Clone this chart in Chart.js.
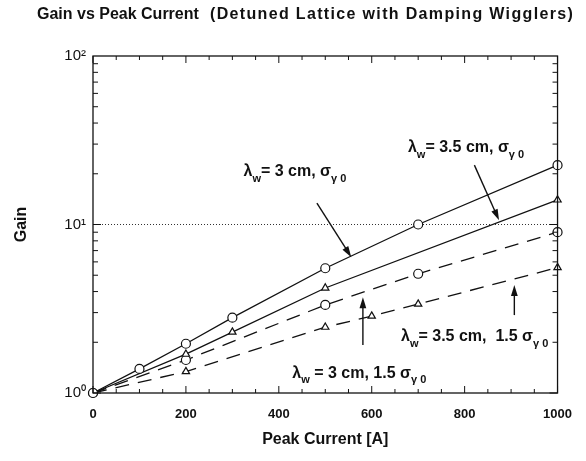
<!DOCTYPE html>
<html><head><meta charset="utf-8">
<script src="https://cdn.jsdelivr.net/npm/chart.js@4/dist/chart.umd.min.js"></script>
<style>html,body{margin:0;padding:0;background:#fff;}#wrap{width:586px;height:461px;position:relative;}</style>
</head><body><div id="wrap"><canvas id="c" width="586" height="461"></canvas></div>
<script>
// ---- data ----
const currentA = [0, 100, 200, 300, 500, 700, 1000];      // λw = 3 cm, σγ0 (solid, circles)
const gainA    = [1, 1.39, 1.96, 2.8, 5.5, 10, 22.5];
const currentB = [0, 200, 300, 500, 1000];                 // λw = 3.5 cm, σγ0 (solid, triangles)
const gainB    = [1, 1.70, 2.30, 4.2, 14];
const currentC = [0, 200, 500, 700, 1000];                 // λw = 3 cm, 1.5 σγ0 (dashed, circles)
const gainC    = [1, 1.57, 3.33, 5.1, 9.0];
const currentD = [0, 200, 500, 600, 700, 1000];            // λw = 3.5 cm, 1.5 σγ0 (dashed, triangles)
const gainD    = [1, 1.34, 2.46, 2.86, 3.37, 5.55];
const refGain  = [10, 10];
const refCurrent = [0, 1000];
const xTickValues = [0, 200, 400, 600, 800, 1000];
const xTickLabels = ['0', '200', '400', '600', '800', '1000'];
const yTickValues = [1, 10, 100];
const yTickLabels = ['10⁰', '10¹', '10²'];
const titleLeft  = 'Gain vs Peak Current';
const titleRight = '(Detuned Lattice with Damping Wigglers)';

// annotation anchors in data coordinates (current, gain)
const labels = [
  {parts: [['λ'], ['w', 1], ['= 3 cm, σ'], ['γ 0', 1]], at: [324, 20.5]},
  {parts: [['λ'], ['w', 1], ['= 3.5 cm, σ'], ['γ 0', 1]], at: [678, 28.5]},
  {parts: [['λ'], ['w', 1], [' = 3 cm, 1.5 σ'], ['γ 0', 1]], at: [429, 1.31]},
  {parts: [['λ'], ['w', 1], ['= 3.5 cm,  1.5 σ'], ['γ 0', 1]], at: [663, 2.15]}
];
const arrows = [
  {from: [482, 13.4], to: [556, 6.4]},
  {from: [821, 22.5], to: [874, 10.6]},
  {from: [581, 1.93], to: [581, 3.7]},
  {from: [907, 2.9], to: [907, 4.37]}
];

const INK = '#111';
const FONT = "'Liberation Sans', Arial, Helvetica, sans-serif";

function pts(xs, ys) { return xs.map((x, i) => ({x: x, y: ys[i]})); }
function series(label, xs, ys, shape, dashed, hideFirst) {
  return {
    label: label, data: pts(xs, ys),
    borderColor: INK, borderWidth: 1.3, borderDash: dashed ? [14, 9] : [],
    pointStyle: shape,
    pointRadius: (c) => (hideFirst && c.dataIndex === 0) ? 0 : (shape === 'circle' ? 4.5 : 4.2),
    pointBackgroundColor: '#fff', pointBorderColor: INK, pointBorderWidth: 1.2,
    tension: 0, clip: false, fill: false
  };
}

function fitText(ctx, text, x, y, target) {
  ctx.letterSpacing = '0px';
  const w = ctx.measureText(text).width;
  const sp = Math.max(0, (target - w) / text.length);
  ctx.letterSpacing = sp.toFixed(2) + 'px';
  ctx.fillText(text, x, y);
  ctx.letterSpacing = '0px';
}

const framePlugin = {
  id: 'frame',
  afterDraw(chart) {
    const ctx = chart.ctx, a = chart.chartArea, xs = chart.scales.x, ys = chart.scales.y;
    ctx.save();
    ctx.strokeStyle = INK; ctx.lineWidth = 1.3;
    ctx.strokeRect(a.left, a.top, a.right - a.left, a.bottom - a.top);
    ctx.lineWidth = 1;
    ctx.beginPath();
    for (let v = 0; v <= 1000; v += 50) {
      const px = xs.getPixelForValue(v);
      const len = (v % 200 === 0) ? 7 : 4;
      ctx.moveTo(px, a.bottom); ctx.lineTo(px, a.bottom - len);
      ctx.moveTo(px, a.top); ctx.lineTo(px, a.top + len);
    }
    for (let d = 1; d <= 10; d *= 10) {
      for (let m = 1; m <= 9; m++) {
        const py = ys.getPixelForValue(m * d);
        const len = m === 1 ? 8 : 5;
        ctx.moveTo(a.left, py); ctx.lineTo(a.left + len, py);
        ctx.moveTo(a.right, py); ctx.lineTo(a.right - len, py);
      }
    }
    ctx.stroke();
    // arrows
    arrows.forEach(ar => {
      const x1 = xs.getPixelForValue(ar.from[0]), y1 = ys.getPixelForValue(ar.from[1]);
      const x2 = xs.getPixelForValue(ar.to[0]), y2 = ys.getPixelForValue(ar.to[1]);
      const ang = Math.atan2(y2 - y1, x2 - x1), L = 11, W = 3.4;
      ctx.beginPath(); ctx.lineWidth = 1.4;
      ctx.moveTo(x1, y1); ctx.lineTo(x2 - Math.cos(ang) * L * 0.8, y2 - Math.sin(ang) * L * 0.8); ctx.stroke();
      ctx.beginPath();
      ctx.moveTo(x2, y2);
      ctx.lineTo(x2 - Math.cos(ang) * L - Math.sin(ang) * W, y2 - Math.sin(ang) * L + Math.cos(ang) * W);
      ctx.lineTo(x2 - Math.cos(ang) * L + Math.sin(ang) * W, y2 - Math.sin(ang) * L - Math.cos(ang) * W);
      ctx.closePath(); ctx.fillStyle = INK; ctx.fill();
    });
    // labels
    ctx.fillStyle = INK; ctx.textBaseline = 'middle'; ctx.textAlign = 'left';
    labels.forEach(lb => {
      let x = xs.getPixelForValue(lb.at[0]);
      const y = ys.getPixelForValue(lb.at[1]);
      lb.parts.forEach(p => {
        ctx.font = p[1] ? 'bold 11px ' + FONT : 'bold 16px ' + FONT;
        ctx.fillText(p[0], x, p[1] ? y + 7 : y);
        x += ctx.measureText(p[0]).width;
      });
    });
    // main title
    ctx.font = 'bold 16px ' + FONT;
    ctx.textBaseline = 'middle';
    fitText(ctx, titleLeft, 37, 15, 158);
    fitText(ctx, titleRight, 210, 15, 364);
    ctx.restore();
  }
};

new Chart(document.getElementById('c'), {
  type: 'line',
  data: {
    datasets: [
      series('λw = 3 cm, σγ0', currentA, gainA, 'circle', false, false),
      series('λw = 3.5 cm, σγ0', currentB, gainB, 'triangle', false, true),
      series('λw = 3 cm, 1.5 σγ0', currentC, gainC, 'circle', true, false),
      series('λw = 3.5 cm, 1.5 σγ0', currentD, gainD, 'triangle', true, true),
      {label: 'Gain = 10', data: pts(refCurrent, refGain), borderColor: '#333', borderWidth: 1,
       borderDash: [1, 2], pointRadius: 0, tension: 0, fill: false}
    ]
  },
  options: {
    responsive: false, animation: false, devicePixelRatio: 1,
    layout: {padding: {top: 56, right: 18, left: 0, bottom: 0}},
    plugins: {legend: {display: false}, tooltip: {enabled: false}, title: {display: false}},
    scales: {
      x: {
        type: 'linear', min: 0, max: 1000,
        grid: {display: false, drawTicks: false}, border: {display: false},
        afterBuildTicks: (s) => { s.ticks = xTickValues.map(v => ({value: v})); },
        afterFit: (s) => { s.height = 68; },
        ticks: {color: INK, font: {family: FONT, size: 13, weight: 'bold'}, padding: 14, maxRotation: 0,
                callback: (v) => xTickLabels[xTickValues.indexOf(v)]},
        title: {display: true, text: 'Peak Current [A]', color: INK,
                font: {family: FONT, size: 16, weight: 'bold'}, padding: {top: 0, bottom: 12}}
      },
      y: {
        type: 'logarithmic', min: 1, max: 100,
        grid: {display: false, drawTicks: false}, border: {display: false},
        afterBuildTicks: (s) => { s.ticks = yTickValues.map(v => ({value: v})); },
        afterFit: (s) => { s.width = 93; },
        ticks: {color: INK, font: {family: FONT, size: 15}, padding: 7,
                callback: (v) => yTickLabels[yTickValues.indexOf(v)]},
        title: {display: true, text: 'Gain', color: INK,
                font: {family: FONT, size: 16, weight: 'bold'}, padding: {top: 12, bottom: 0}}
      }
    }
  },
  plugins: [framePlugin]
});
</script></body></html>
